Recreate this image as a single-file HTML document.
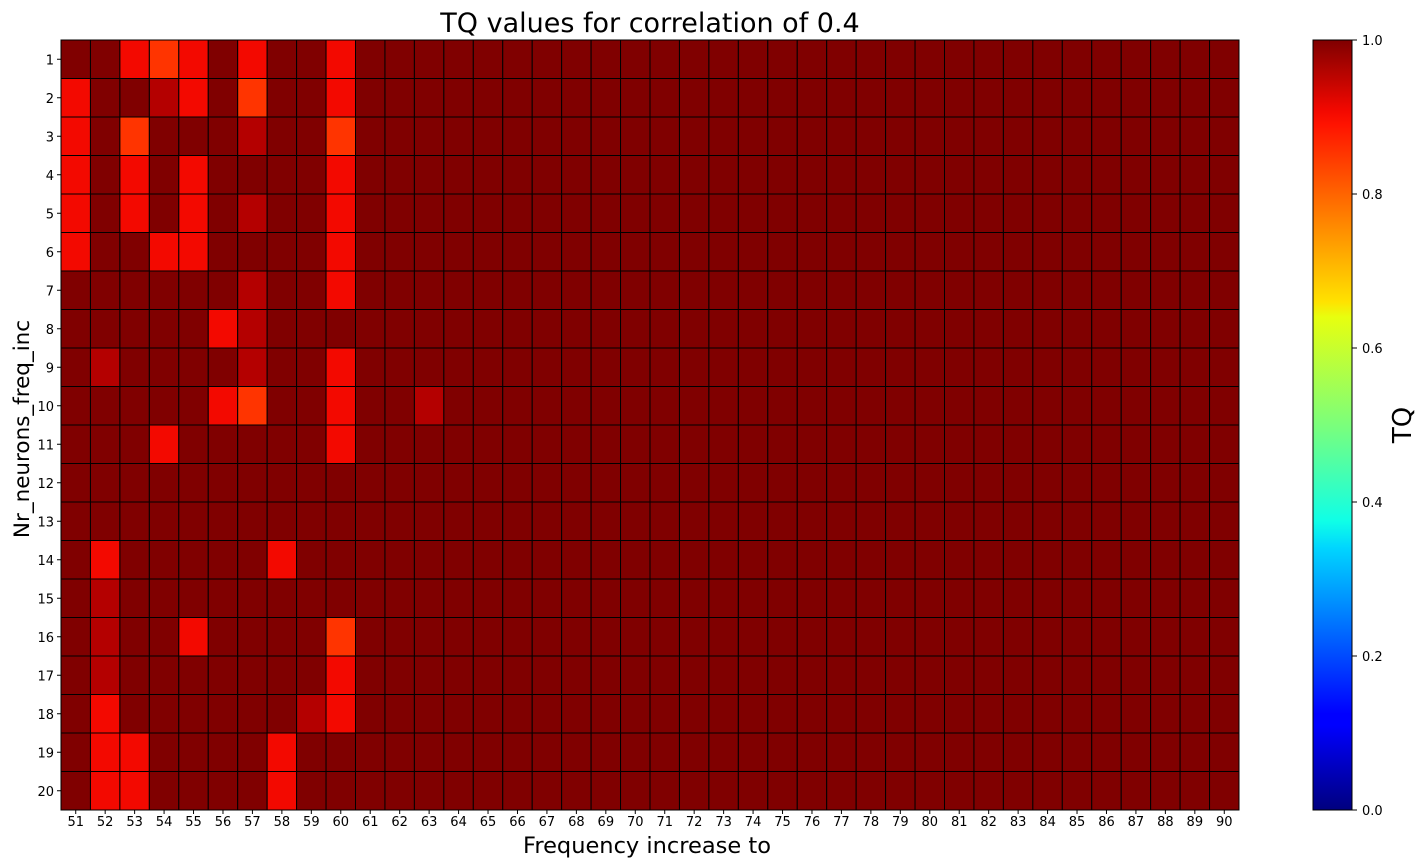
<!DOCTYPE html>
<html><head><meta charset="utf-8"><style>
body{margin:0;background:#fff;}
svg{display:block;font-family:"DejaVu Sans","Liberation Sans",sans-serif;}
</style></head><body>
<svg id="chart" width="1426" height="867" viewBox="0 0 1426 867" xmlns="http://www.w3.org/2000/svg">
<defs><linearGradient id="jet" x1="0" y1="1" x2="0" y2="0">
<stop offset="0" stop-color="#00007f"/><stop offset="0.11" stop-color="#0000ff"/><stop offset="0.125" stop-color="#0000ff"/><stop offset="0.34" stop-color="#00d5ff"/><stop offset="0.375" stop-color="#0fffe7"/><stop offset="0.5" stop-color="#7bff7b"/><stop offset="0.64" stop-color="#e7ff0f"/><stop offset="0.66" stop-color="#ffe200"/><stop offset="0.89" stop-color="#ff1300"/><stop offset="0.91" stop-color="#f10800"/><stop offset="1" stop-color="#800000"/>
</linearGradient></defs>
<text x="650" y="32" font-size="27" text-anchor="middle">TQ values for correlation of 0.4</text>
<g id="cells"></g>
<rect x="61" y="40" width="1178" height="770" fill="none" stroke="#000" stroke-width="1"/>
<g id="xticks"></g><g id="yticks"></g>
<text x="647" y="853" font-size="22.5" text-anchor="middle">Frequency increase to</text>
<text transform="translate(29,429) rotate(-90)" font-size="21.5" text-anchor="middle">Nr_neurons_freq_inc</text>
<rect x="1313" y="40" width="39" height="770" fill="url(#jet)" stroke="#000" stroke-width="1"/>
<g id="cbticks"></g>
<text transform="translate(1411,425) rotate(-90)" font-size="26" text-anchor="middle">TQ</text>
</svg>
<script>
const xCategories = [];
for (let i = 51; i <= 90; i++) xCategories.push(String(i));
const yCategories = [];
for (let i = 1; i <= 20; i++) yCategories.push(String(i));
const cbTickLabels = ["0.0","0.2","0.4","0.6","0.8","1.0"];
// non-1.0 cells, columns 51..63 (D=1, M=0.95, R=0.9, O=0.85)
const rowCodes = [
"DDRORDRDDRDDD","RDDMRDODDRDDD","RDODDDMDDODDD","RDRDRDDDDRDDD","RDRDRDMDDRDDD",
"RDDRRDDDDRDDD","DDDDDDMDDRDDD","DDDDDRMDDDDDD","DMDDDDMDDRDDD","DDDDDRODDRDDM",
"DDDRDDDDDRDDD","DDDDDDDDDDDDD","DDDDDDDDDDDDD","DRDDDDDRDDDDD","DMDDDDDDDDDDD",
"DMDDRDDDDODDD","DMDDDDDDDRDDD","DRDDDDDDMRDDD","DRRDDDDRDDDDD","DRRDDDDRDDDDD"];
const codeValue = {D:1.0, M:0.955, R:0.9, O:0.855};
const values = rowCodes.map(r => xCategories.map((c,i) => i < r.length ? codeValue[r[i]] : 1.0));

const X0=61, X1=1239, Y0=40, Y1=810;
const cw=(X1-X0)/xCategories.length, ch=(Y1-Y0)/yCategories.length;
const xPos = i => X0 + i*cw;
const yPos = j => Y0 + j*ch;
const cbY = v => Y1 - v*(Y1-Y0);
function lerp(pts,x){for(let k=1;k<pts.length;k++){if(x<=pts[k][0]){const a=pts[k-1],b=pts[k];return a[1]+(b[1]-a[1])*(x-a[0])/(b[0]-a[0]);}}return pts[pts.length-1][1];}
function jet(v){
 const r=lerp([[0,0],[0.35,0],[0.66,1],[0.89,1],[1,0.5]],v);
 const g=lerp([[0,0],[0.125,0],[0.375,1],[0.64,1],[0.91,0],[1,0]],v);
 const b=lerp([[0,0.5],[0.11,1],[0.34,1],[0.65,0],[1,0]],v);
 return `rgb(${Math.round(r*255)},${Math.round(g*255)},${Math.round(b*255)})`;
}
const NS="http://www.w3.org/2000/svg";
const cells=document.getElementById('cells');
values.forEach((row,j)=>row.forEach((v,i)=>{
 const el=document.createElementNS(NS,'rect');
 el.setAttribute('x',xPos(i));el.setAttribute('y',yPos(j));
 el.setAttribute('width',cw);el.setAttribute('height',ch);
 el.setAttribute('fill',jet(v));el.setAttribute('stroke','#000');el.setAttribute('stroke-width','1');
 
 
 cells.appendChild(el);
}));
const xt=document.getElementById('xticks');
xCategories.forEach((c,i)=>{
 const x=xPos(i)+cw/2;
 const ln=document.createElementNS(NS,'line');
 ln.setAttribute('x1',x);ln.setAttribute('x2',x);ln.setAttribute('y1',810);ln.setAttribute('y2',814);ln.setAttribute('stroke','#000');
 
 
 xt.appendChild(ln);
 const t=document.createElementNS(NS,'text');
 t.setAttribute('x',x);t.setAttribute('y',826);t.setAttribute('font-size','13');t.setAttribute('text-anchor','middle');
 t.textContent=c;
 
 
 xt.appendChild(t);
});
const yt=document.getElementById('yticks');
yCategories.forEach((c,j)=>{
 const y=yPos(j)+ch/2;
 const ln=document.createElementNS(NS,'line');
 ln.setAttribute('x1',57);ln.setAttribute('x2',61);ln.setAttribute('y1',y);ln.setAttribute('y2',y);ln.setAttribute('stroke','#000');
 
 
 yt.appendChild(ln);
 const t=document.createElementNS(NS,'text');
 t.setAttribute('x',54);t.setAttribute('y',y+5);t.setAttribute('font-size','13');t.setAttribute('text-anchor','end');
 t.textContent=c;
 
 
 yt.appendChild(t);
});
const cb=document.getElementById('cbticks');
cbTickLabels.forEach(l=>{
 const y=cbY(parseFloat(l));
 const ln=document.createElementNS(NS,'line');
 ln.setAttribute('x1',1352);ln.setAttribute('x2',1357);ln.setAttribute('y1',y);ln.setAttribute('y2',y);ln.setAttribute('stroke','#000');
 
 
 cb.appendChild(ln);
 const t=document.createElementNS(NS,'text');
 t.setAttribute('x',1362);t.setAttribute('y',y+5);t.setAttribute('font-size','13');
 t.textContent=l;
 
 
 cb.appendChild(t);
});
</script>
</body></html>
